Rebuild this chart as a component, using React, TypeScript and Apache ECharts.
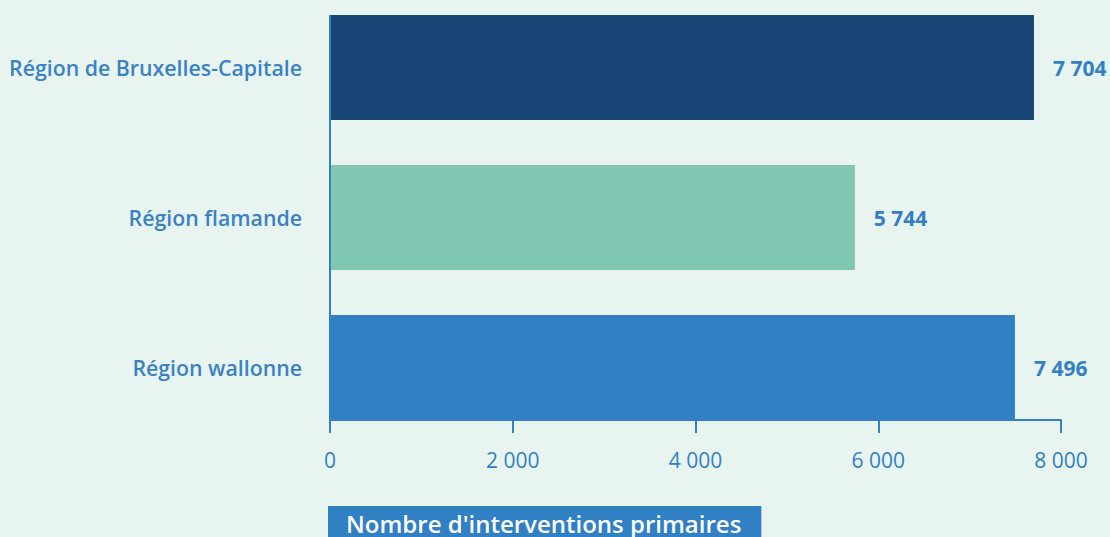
import React, { useEffect, useRef } from "react";
import * as echarts from "echarts";

const categories = ["Région de Bruxelles-Capitale", "Région flamande", "Région wallonne"];
const values = [7704, 5744, 7496];
const barColors = ["#174676", "#7fc6b3", "#3180c3"];
const xTicks = { min: 0, max: 8000, interval: 2000 };
const axisTitle = "Nombre d'interventions primaires";

const fmt = (v: number) => String(v).replace(/\B(?=(\d{3})+(?!\d))/g, " ");

export default function App() {
  const ref = useRef<HTMLDivElement>(null);
  useEffect(() => {
    document.body.style.margin = "0";
    const chart = echarts.init(ref.current!, null, { renderer: "svg" });
    const font = "'Open Sans', 'Noto Sans', sans-serif";
    chart.setOption({
      animation: false,
      backgroundColor: "#e8f4f0",
      textStyle: { fontFamily: font },
      title: {
        text: axisTitle,
        left: 328,
        top: 506,
        padding: [5, 20, 10, 18],
        backgroundColor: "#3180c3",
        textStyle: { color: "#ffffff", fontSize: 24, fontWeight: 600, fontFamily: font },
      },
      grid: { left: 330, right: 49, top: -7.5, height: 450, containLabel: false, outerBoundsMode: "none" },
      xAxis: {
        type: "value",
        min: xTicks.min,
        max: xTicks.max,
        interval: xTicks.interval,
        offset: -22.5,
        axisLine: { show: true, lineStyle: { color: "#3380c2", width: 2 } },
        axisTick: { show: true, length: 13, lineStyle: { color: "#3380c2", width: 2 } },
        splitLine: { show: false },
        axisLabel: {
          color: "#3380c2",
          fontSize: 21,
          fontFamily: font,
          margin: 29,
          formatter: (v: number) => fmt(v),
        },
      },
      yAxis: {
        type: "category",
        data: categories,
        inverse: true,
        axisLine: { show: false },
        axisTick: { show: false },
        axisLabel: {
          color: "#3a82c4",
          fontSize: 21.3,
          fontWeight: 600,
          fontFamily: font,
          margin: 28,
        },
      },
      graphic: [
        {
          type: "line",
          shape: { x1: 330, y1: 15, x2: 330, y2: 420 },
          style: { stroke: "#3380c2", lineWidth: 2 },
          z: 10,
        },
      ],
      series: [
        {
          type: "bar",
          barWidth: 105,
          data: values.map((v, i) => ({ value: v, itemStyle: { color: barColors[i] } })),
          label: {
            show: true,
            position: "right",
            distance: 19,
            color: "#3380c2",
            fontSize: 21,
            fontWeight: 700,
            fontFamily: font,
            formatter: (p: any) => fmt(p.value),
          },
        },
      ],
    });
    return () => chart.dispose();
  }, []);
  return <div ref={ref} style={{ position: "absolute", left: 0, top: 0, width: 1110, height: 537 }} />;
}
